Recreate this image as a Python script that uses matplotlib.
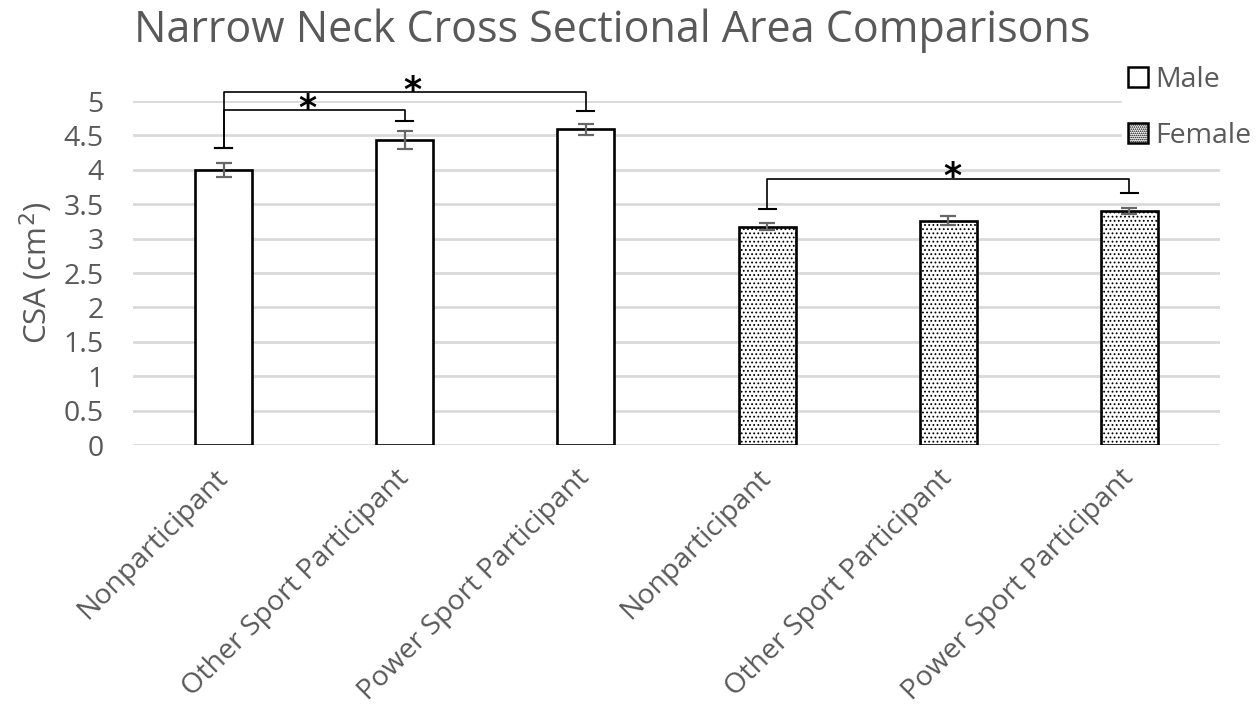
import matplotlib
matplotlib.use("Agg")
import matplotlib.pyplot as plt
import numpy as np
from matplotlib.patches import Patch

plt.rcParams['font.family'] = ['Open Sans', 'DejaVu Sans']
plt.rcParams['hatch.linewidth'] = 0.8
plt.rcParams['hatch.color'] = 'black'

# Data
categories = ["Nonparticipant", "Other Sport Participant", "Power Sport Participant",
              "Nonparticipant", "Other Sport Participant", "Power Sport Participant"]
male_csa = [4.00, 4.43, 4.59]
male_err = [0.10, 0.13, 0.08]
female_csa = [3.17, 3.26, 3.40]
female_err = [0.05, 0.065, 0.04]
y_ticks = [0, 0.5, 1, 1.5, 2, 2.5, 3, 3.5, 4, 4.5, 5]
y_tick_labels = ["0", "0.5", "1", "1.5", "2", "2.5", "3", "3.5", "4", "4.5", "5"]

# Significance brackets: (left bar, right bar, bracket height, left end, right end, star position)
brackets = [
    (0, 1, 4.87, 4.32, 4.71, 0.46),
    (0, 2, 5.13, 4.32, 4.86, 0.52),
    (3, 5, 3.87, 3.43, 3.67, 0.51),
]

text_color = "#595959"
grid_color = "#d9d9d9"

fig = plt.figure(figsize=(12.57, 7.12), dpi=100)
ax = fig.add_axes([0.1058, 0.375, 0.8648, 0.4831])

x = np.arange(len(categories))
bar_w = 0.315
xm = x[:3]
xf = x[3:]

err_kw = dict(ecolor="#666666", elinewidth=1.6, capsize=6, capthick=1.6)
ax.bar(xm, male_csa, width=bar_w, color="white", edgecolor="black", linewidth=1.9,
       yerr=male_err, error_kw=err_kw, zorder=3, label="Male")
ax.bar(xf, female_csa, width=bar_w, color="white", edgecolor="black", linewidth=1.9,
       hatch="....", yerr=female_err, error_kw=err_kw, zorder=3, label="Female")

ax.set_xlim(-0.5, len(categories) - 0.5)
ax.set_ylim(0, 5)
ax.set_yticks(y_ticks)
ax.set_yticklabels(y_tick_labels)
ax.set_xticks(x)
ax.set_xticklabels(categories, rotation=45, ha="right", rotation_mode="anchor")
ax.tick_params(axis="both", length=0, labelsize=20.5, labelcolor=text_color)
ax.tick_params(axis="y", pad=21)
ax.tick_params(axis="x", pad=21)
for lab in ax.get_xticklabels():
    lab.set_va("center")

ax.yaxis.grid(True, color=grid_color, linewidth=2, zorder=0)
ax.set_axisbelow(True)
for sp in ax.spines.values():
    sp.set_visible(False)

ax.set_ylabel("CSA (cm$^2$)", fontsize=22.5, color=text_color, labelpad=6)

# Significance brackets
tick_half = 0.047
for i, j, yb, yl, yr, sx in brackets:
    ax.plot([x[i], x[i], x[j], x[j]], [yl, yb, yb, yr], color="black",
            linewidth=1.2, clip_on=False, zorder=4)
    ax.plot([x[i] - tick_half, x[i] + tick_half], [yl, yl], color="black",
            linewidth=1.5, clip_on=False, zorder=4)
    ax.plot([x[j] - tick_half, x[j] + tick_half], [yr, yr], color="black",
            linewidth=1.5, clip_on=False, zorder=4)
    ax.text(x[i] + sx * (x[j] - x[i]), yb + 0.02, "*", fontsize=25,
            fontweight="bold", ha="center", va="center", color="black",
            clip_on=False, zorder=5, family="DejaVu Sans")

fig.text(0.487, 0.957, "Narrow Neck Cross Sectional Area Comparisons",
         fontsize=31, color=text_color, ha="center", va="center")

handles = [Patch(facecolor="white", edgecolor="black", linewidth=1.8),
           Patch(facecolor="white", edgecolor="black", linewidth=1.8, hatch="........")]
leg = ax.legend(handles, ["Male", "Female"], loc="upper left",
                bbox_to_anchor=(0.897, 1.16), frameon=True, fontsize=20.5,
                handlelength=0.7, handleheight=0.7, handletextpad=0.25,
                labelspacing=1.0, borderpad=0.2, framealpha=1, edgecolor="white",
                fancybox=False)
for t in leg.get_texts():
    t.set_color(text_color)

fig.savefig("out.png", dpi=100, facecolor="white")
